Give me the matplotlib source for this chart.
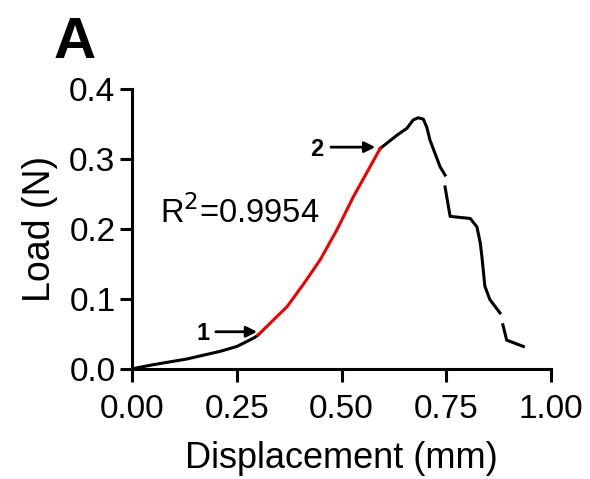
import numpy as np
import matplotlib.pyplot as plt

plt.rcParams['font.family'] = ['Liberation Sans', 'DejaVu Sans']

# pre-linear toe region (black)
toe_x = [0.0, 0.051, 0.13, 0.21, 0.25, 0.29, 0.30]
toe_y = [0.0, 0.006, 0.014, 0.025, 0.032, 0.044, 0.048]

# linear region used for the fit (red)
lin_x = [0.30, 0.37, 0.41, 0.449, 0.489, 0.528, 0.568, 0.592]
lin_y = [0.048, 0.089, 0.122, 0.156, 0.199, 0.246, 0.289, 0.315]

# post-linear / failure region (black, gaps where data are sparse)
post_x = [0.592, 0.632, 0.656, 0.671, 0.683, 0.695, 0.703, 0.711, 0.735, 0.747, np.nan,
          0.747, 0.759, 0.807, 0.823, 0.831, 0.835, 0.842, 0.854, 0.878, np.nan,
          0.885, 0.894, 0.934]
post_y = [0.315, 0.334, 0.344, 0.356, 0.359, 0.357, 0.346, 0.327, 0.289, 0.277, np.nan,
          0.26, 0.218, 0.215, 0.203, 0.18, 0.16, 0.118, 0.099, 0.080, np.nan,
          0.063, 0.041, 0.032]

xticks = [0.0, 0.25, 0.5, 0.75, 1.0]
yticks = [0.0, 0.1, 0.2, 0.3, 0.4]

fig = plt.figure(figsize=(5.9, 4.79), dpi=100)
ax = fig.add_axes([0.224, 0.230, 0.710, 0.584])

ax.plot(toe_x, toe_y, color='black', lw=2.2)
ax.plot(post_x, post_y, color='black', lw=2.2)
ax.plot(lin_x, lin_y, color='#ee0000', lw=2.2)

ax.set_xlim(0, 1.0)
ax.set_ylim(0, 0.4)
ax.set_xticks(xticks)
ax.set_yticks(yticks)
ax.set_xticklabels(['%.2f' % v for v in xticks])
ax.set_yticklabels(['%.1f' % v for v in yticks])
ax.tick_params(labelsize=24, width=2.2, length=9, direction='out')
ax.tick_params(axis='x', pad=9)
ax.tick_params(axis='y', pad=3)
for side in ['top', 'right']:
    ax.spines[side].set_visible(False)
for side in ['left', 'bottom']:
    ax.spines[side].set_linewidth(2.2)

ax.set_xlabel('Displacement (mm)', fontsize=26, labelpad=12)
ax.set_ylabel('Load (N)', fontsize=27, labelpad=8)

ax.text(0.067, 0.209, r'R$^2$=0.9954', fontsize=23.5)

ax.annotate('', xy=(0.305, 0.053), xytext=(0.193, 0.053),
            arrowprops=dict(arrowstyle='-|>', color='black', lw=2, mutation_scale=16))
ax.text(0.185, 0.051, '1', fontsize=17, fontweight='bold', ha='right', va='center')
ax.annotate('', xy=(0.587, 0.317), xytext=(0.468, 0.317),
            arrowprops=dict(arrowstyle='-|>', color='black', lw=2, mutation_scale=16))
ax.text(0.457, 0.313, '2', fontsize=17, fontweight='bold', ha='right', va='center')

fig.text(0.09, 0.879, 'A', fontsize=42, fontweight='bold')

fig.savefig('out.png', dpi=100)
